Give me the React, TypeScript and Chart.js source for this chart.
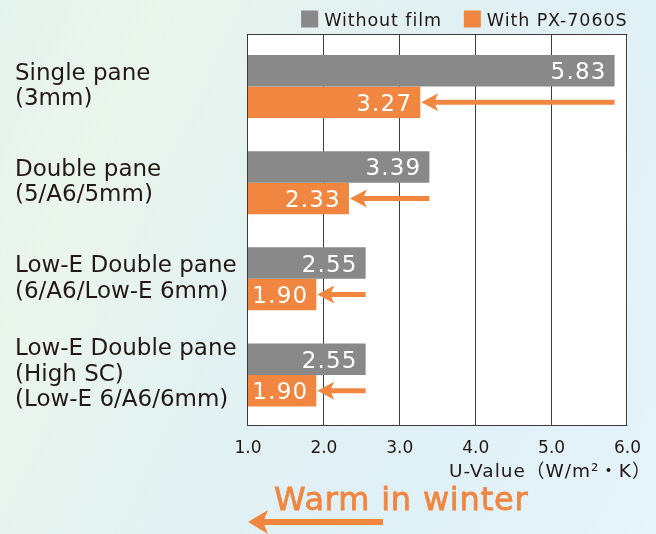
import React, { useEffect, useRef } from 'react';
import { Chart, registerables } from 'chart.js';

Chart.register(...registerables);

// ---------- data ----------
const categories: string[][] = [
  ['Single pane', '(3mm)'],
  ['Double pane', '(5/A6/5mm)'],
  ['Low-E Double pane', '(6/A6/Low-E 6mm)'],
  ['Low-E Double pane', '(High SC)', '(Low-E 6/A6/6mm)'],
];
const withoutFilm: number[] = [5.83, 3.39, 2.55, 2.55];
const withFilm: number[] = [3.27, 2.33, 1.9, 1.9];
const seriesLabels: string[] = ['Without film', 'With PX-7060S'];
const xMin = 1;
const xMax = 6;
const xStep = 1;
const axisTitle = 'U-Value（W/m²・K）';
const footerText = 'Warm in winter';

// ---------- style ----------
const FONT = '"DejaVu Sans", "Noto Sans CJK JP", sans-serif';
const TEXT = '#231815';
const GRAY = '#898989';
const ORANGE = '#f08640';
const GRID = '#3e3a39';

function drawArrow(
  ctx: CanvasRenderingContext2D,
  fromX: number,
  tipX: number,
  y: number,
  thick: number,
  headLen: number,
  headHalf: number,
  color: string
) {
  ctx.save();
  ctx.fillStyle = color;
  ctx.beginPath();
  ctx.moveTo(tipX, y);
  ctx.lineTo(tipX + headLen, y - headHalf);
  ctx.lineTo(tipX + headLen * 0.82, y - thick / 2);
  ctx.lineTo(fromX, y - thick / 2);
  ctx.lineTo(fromX, y + thick / 2);
  ctx.lineTo(tipX + headLen * 0.82, y + thick / 2);
  ctx.lineTo(tipX + headLen, y + headHalf);
  ctx.closePath();
  ctx.fill();
  ctx.restore();
}

const FRAME_EXT_TOP = 4.5;
const FRAME_EXT_BOTTOM = 3;

const decorPlugin = {
  id: 'decor',
  beforeDraw(chart: any) {
    const { ctx, chartArea: a } = chart;
    ctx.save();
    ctx.fillStyle = '#ffffff';
    ctx.fillRect(a.left, a.top - FRAME_EXT_TOP, a.right - a.left, a.bottom - a.top + FRAME_EXT_TOP + FRAME_EXT_BOTTOM);
    ctx.restore();
  },
  beforeDatasetsDraw(chart: any) {
    const { ctx, chartArea: a, scales } = chart;
    const xs = scales.x;
    const top = a.top - FRAME_EXT_TOP;
    const bottom = a.bottom + FRAME_EXT_BOTTOM;
    ctx.save();
    ctx.strokeStyle = GRID;
    ctx.lineWidth = 1;
    ctx.beginPath();
    xs.ticks.forEach((t: any) => {
      const px = Math.round(xs.getPixelForValue(t.value)) - 0.5;
      ctx.moveTo(px, top);
      ctx.lineTo(px, bottom);
    });
    ctx.moveTo(a.left - 0.5, Math.round(top) + 0.5);
    ctx.lineTo(a.right, Math.round(top) + 0.5);
    ctx.moveTo(a.left - 0.5, Math.round(bottom) - 0.5);
    ctx.lineTo(a.right, Math.round(bottom) - 0.5);
    ctx.stroke();
    ctx.restore();
  },
  afterDatasetsDraw(chart: any) {
    const { ctx, chartArea: a, scales } = chart;
    const m0 = chart.getDatasetMeta(0);
    const m1 = chart.getDatasetMeta(1);
    // arrows
    m1.data.forEach((bar: any, i: number) => {
      const g = m0.data[i];
      drawArrow(ctx, g.x, bar.x + 1, bar.y, 5, 17, 9, ORANGE);
    });
    // value labels
    ctx.save();
    ctx.fillStyle = '#ffffff';
    ctx.font = `23px ${FONT}`;
    (ctx as any).letterSpacing = '1.2px';
    ctx.textAlign = 'right';
    ctx.textBaseline = 'alphabetic';
    [m0, m1].forEach((meta: any, di: number) => {
      const vals = chart.data.datasets[di].data as number[];
      meta.data.forEach((bar: any, i: number) => {
        ctx.fillText(vals[i].toFixed(2), bar.x - 8, bar.y + 8.5);
      });
    });
    ctx.restore();

    // legend
    ctx.save();
    ctx.font = `17.5px ${FONT}`;
    (ctx as any).letterSpacing = '0.9px';
    ctx.textBaseline = 'alphabetic';
    ctx.textAlign = 'left';
    const ds = chart.data.datasets;
    let right = a.right;
    const items: { label: string; color: string }[] = ds.map((d: any) => ({ label: d.label, color: d.backgroundColor }));
    for (let k = items.length - 1; k >= 0; k--) {
      const w = ctx.measureText(items[k].label).width;
      const tx = right - w;
      ctx.fillStyle = TEXT;
      ctx.fillText(items[k].label, tx, 26);
      const bx = tx - 6 - 17;
      ctx.fillStyle = items[k].color;
      ctx.fillRect(bx, 10.5, 17, 17);
      right = bx - 22;
    }
    ctx.restore();

    // axis title
    ctx.save();
    ctx.font = `18.5px ${FONT}`;
    (ctx as any).letterSpacing = '1px';
    ctx.fillStyle = TEXT;
    ctx.textAlign = 'right';
    ctx.textBaseline = 'alphabetic';
    ctx.fillText(axisTitle, a.right + 24, 477);
    ctx.restore();

    // footer
    const left = scales.x.getPixelForValue(xMin);
    ctx.save();
    ctx.font = `32px ${FONT}`;
    (ctx as any).letterSpacing = '0.8px';
    ctx.fillStyle = ORANGE;
    ctx.strokeStyle = ORANGE;
    ctx.lineWidth = 0.8;
    ctx.textAlign = 'left';
    ctx.textBaseline = 'alphabetic';
    ctx.fillText(footerText, left + 26, 510);
    ctx.strokeText(footerText, left + 26, 510);
    ctx.restore();
    drawArrow(ctx, left + 135, left, 522, 6, 20, 12, ORANGE);
  },
};

export default function App() {
  const ref = useRef<HTMLCanvasElement>(null);
  useEffect(() => {
    if (!ref.current) return;
    const chart = new Chart(ref.current, {
      type: 'bar',
      data: {
        labels: categories,
        datasets: [
          {
            label: seriesLabels[0],
            data: withoutFilm,
            backgroundColor: GRAY,
            categoryPercentage: 0.656,
            barPercentage: 1,
          },
          {
            label: seriesLabels[1],
            data: withFilm,
            backgroundColor: ORANGE,
            categoryPercentage: 0.656,
            barPercentage: 1,
          },
        ],
      },
      options: {
        indexAxis: 'y',
        responsive: false,
        animation: false,
        devicePixelRatio: 1,
        layout: { padding: { left: 15, top: 38.5, right: 28.5, bottom: 0 } },
        plugins: {
          legend: { display: false },
          tooltip: { enabled: false },
        },
        scales: {
          x: {
            type: 'linear',
            min: xMin,
            max: xMax,
            position: 'bottom',
            grid: { display: false, drawTicks: false },
            border: { display: false },
            ticks: {
              stepSize: xStep,
              autoSkip: false,
              maxRotation: 0,
              padding: 15,
              color: TEXT,
              font: { family: FONT, size: 17 },
              callback: (v: any) => Number(v).toFixed(1),
            },
            afterFit: (s: any) => {
              s.height = 111;
            },
          },
          y: {
            type: 'category',
            grid: { display: false, drawTicks: false },
            border: { display: false },
            ticks: {
              crossAlign: 'far',
              padding: 0,
              color: TEXT,
              font: { family: FONT, size: 23, lineHeight: 1.11 },
            },
            afterFit: (s: any) => {
              s.width = 233;
            },
          },
        },
      },
      plugins: [decorPlugin],
    } as any);
    return () => chart.destroy();
  }, []);

  return (
    <div
      style={{
        position: 'fixed',
        left: 0,
        top: 0,
        width: 656,
        height: 534,
        background:
          'linear-gradient(115deg, #e5f3ee 0%, #eaf5ec 18%, #e2f1f2 45%, #dff0f6 70%, #e6f4fb 100%)',
      }}
    >
      <canvas ref={ref} width={656} height={534} style={{ display: 'block', width: 656, height: 534 }} />
    </div>
  );
}
